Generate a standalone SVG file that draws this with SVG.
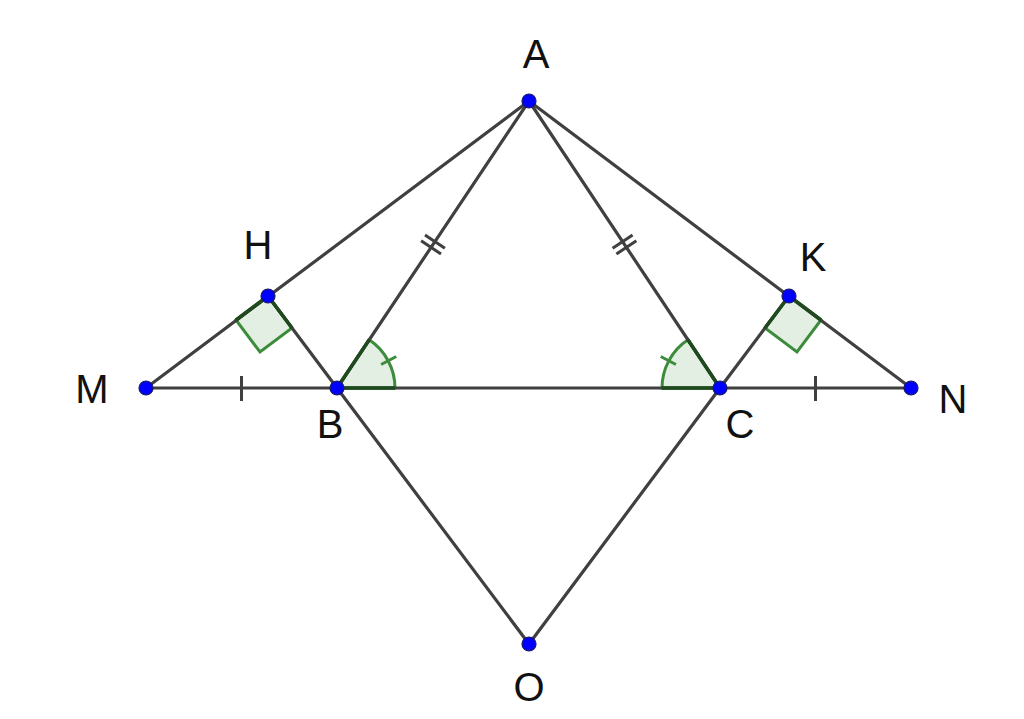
<svg xmlns="http://www.w3.org/2000/svg" width="1024" height="719" viewBox="0 0 1024 719">
<style>
.ln{stroke:#404040;stroke-width:3.2;fill:none;stroke-linecap:round}
.tk{stroke:#404040;stroke-width:3;fill:none}
.mk{fill:#e4efe4;stroke:#3c8c3c;stroke-width:3;stroke-linejoin:miter}
.mkd{stroke:#1e4a1e;stroke-width:3.5;fill:none}
.pt{fill:#0000ff;stroke:#1a1a66;stroke-width:1.2}
.lb{font-family:"Liberation Sans",Arial,sans-serif;font-size:40px;fill:#111;text-anchor:middle}
</style>
<rect width="1024" height="719" fill="#fff"/>
<g id="markers">
<path class="mk" d="M268,296 L236,320 L260,352 L292,328 Z"/>
<path class="mk" d="M789,296 L821,320 L797,352 L765,328 Z"/>
<path class="mk" d="M337,388 L395,388 A58,58 0 0 0 369.2,339.8 Z"/>
<path class="mk" d="M720,388 L662,388 A58,58 0 0 1 687.9,339.7 Z"/>
<path class="tk" style="stroke:#3c8c3c" d="M381.1,364.5 L396.3,356.5"/>
<path class="tk" style="stroke:#3c8c3c" d="M675.9,364.5 L660.7,356.5"/>
</g>
<g id="connectors">
<path class="ln" d="M146,388 L911,388"/>
<path class="ln" d="M146,388 L529,101 L911,388"/>
<path class="ln" d="M337,388 L529,101 L720,388"/>
<path class="ln" d="M268,296 L337,388 L529,644 L720,388 L789,296"/>
<path class="mkd" d="M268,296 L236,320 M268,296 L292,328 M789,296 L821,320 M789,296 L765,328 M337,388 L395,388 M337,388 L369.2,339.8 M720,388 L662,388 M720,388 L687.9,339.7"/>
<path class="tk" d="M241.5,376 L241.5,401 M815.5,376 L815.5,401"/>
<path class="tk" d="M425,234.9 L444.9,248.3 M421.1,240.7 L441,254.1"/>
<path class="tk" d="M612.6,248.2 L632.6,235 M616.4,254.1 L636.4,240.8"/>
</g>
<g id="A"><circle class="pt" cx="529" cy="101" r="7"/><text class="lb" x="536" y="68">A</text></g>
<g id="H"><circle class="pt" cx="268" cy="296" r="7"/><text class="lb" x="258" y="259">H</text></g>
<g id="K"><circle class="pt" cx="789" cy="296" r="7"/><text class="lb" x="813" y="271">K</text></g>
<g id="M"><circle class="pt" cx="146" cy="388" r="7"/><text class="lb" x="92" y="403">M</text></g>
<g id="B"><circle class="pt" cx="337" cy="388" r="7"/><text class="lb" x="330" y="438">B</text></g>
<g id="C"><circle class="pt" cx="720" cy="388" r="7"/><text class="lb" x="740" y="438">C</text></g>
<g id="N"><circle class="pt" cx="911" cy="388" r="7"/><text class="lb" x="953" y="413">N</text></g>
<g id="O"><circle class="pt" cx="529" cy="644" r="7"/><text class="lb" x="529" y="701">O</text></g>
</svg>
